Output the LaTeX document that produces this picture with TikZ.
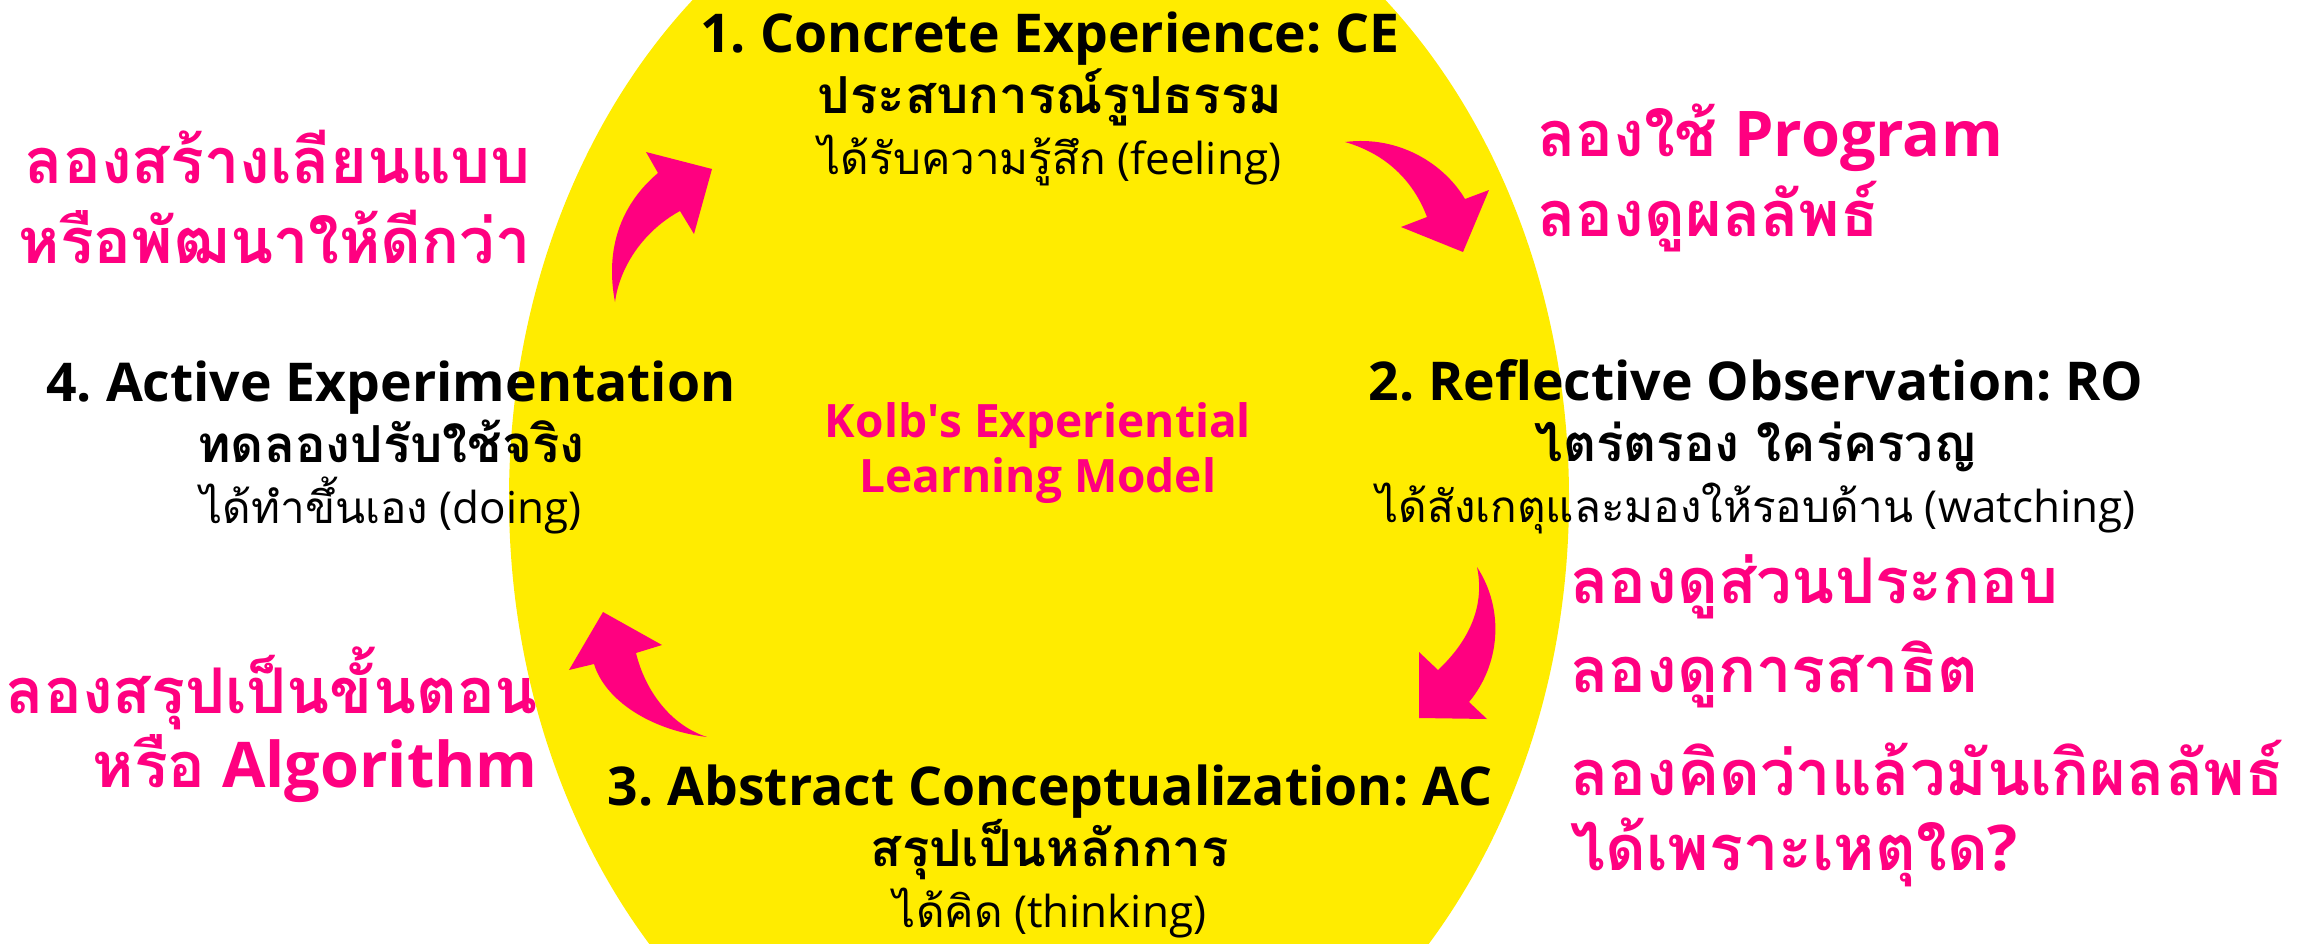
\documentclass[tikz,border=0pt]{standalone}
\usepackage{fontspec}
\setmainfont{Open Sans}
\newfontfamily\thai[Script=Thai]{Loma}
\usepackage{tikz}
\definecolor{kolbyellow}{HTML}{FFEC00}
\definecolor{kolbpink}{HTML}{FF0080}
\frenchspacing

\newcommand{\headline}{\fontsize{53.5}{61}\selectfont\bfseries}
\newcommand{\thaiheadline}{\fontsize{51}{61}\selectfont\bfseries\thai}
\newcommand{\subline}{\fontsize{44}{61}\selectfont\mdseries}

\begin{document}
\begin{tikzpicture}
  [x=1pt,y=-1pt,every node/.style={inner sep=0pt},
   stagetext/.style={align=center,font=\fontsize{51}{61}\selectfont},
   hinttext/.style={text=kolbpink,font=\fontsize{63}{80}\selectfont\bfseries},
   bigarrow/.style={fill=kolbpink}]
  \useasboundingbox (0,0) rectangle (2311,943);
  \clip (0,0) rectangle (2311,943);
  \fill[kolbyellow] (1039,498) ellipse [x radius=530,y radius=658];

  % the four stages
  \node[stagetext] (ce) at (1050,99)
    {{\headline 1. Concrete Experience: CE}\\
     {\thaiheadline ประสบการณ์รูปธรรม}\\
     {\subline{\thai ได้รับความรู้สึก} (feeling)}};
  \node[stagetext] (ro) at (1756,447)
    {{\headline 2. Reflective Observation: RO}\\
     {\thaiheadline ไตร่ตรอง ใคร่ครวญ}\\
     {\subline{\thai ได้สังเกตุและมองให้รอบด้าน} (watching)}};
  \node[stagetext] (ac) at (1050,851)
    {{\headline 3. Abstract Conceptualization: AC}\\
     {\thaiheadline สรุปเป็นหลักการ}\\
     {\subline{\thai ได้คิด} (thinking)}};
  \node[stagetext] (ae) at (391,447)
    {{\headline 4. Active Experimentation}\\
     {\thaiheadline ทดลองปรับใช้จริง}\\
     {\subline{\thai ได้ทำขึ้นเอง} (doing)}};

  \node[align=center,text=kolbpink,font=\fontsize{46}{55}\selectfont\bfseries] (title) at (1038,453)
    {Kolb\textquotesingle s Experiential\\ Learning Model};

  % what to try at each step
  \node[hinttext,align=right,anchor=east] (h1) at (531,197)
    {{\thai ลองสร้างเลียนแบบ}\\ {\thai หรือพัฒนาให้ดีกว่า}};
  \node[hinttext,align=left,anchor=west] (h2) at (1537,178)
    {{\thai ลองใช้} Program\\ {\thai ลองดูผลลัพธ์}};
  \node[hinttext,anchor=west] (h3) at (1570,587) {\thai ลองดูส่วนประกอบ};
  \node[hinttext,anchor=west] (h4) at (1570,674) {\thai ลองดูการสาธิต};
  \node[hinttext,align=left,anchor=west,font=\fontsize{63}{75}\selectfont\bfseries] (h5) at (1570,814)
    {{\thai ลองคิดว่าแล้วมันเกิผลลัพธ์}\\ {\thai ได้เพราะเหตุใด}?};
  \node[hinttext,align=right,anchor=east,font=\fontsize{63}{74}\selectfont\bfseries] (h6) at (538,725)
    {{\thai ลองสรุปเป็นขั้นตอน}\\ {\thai หรือ} Algorithm};

  % curved arrows round the cycle
  \fill[bigarrow] (615,302) .. controls (605,250) and (620,205) .. (658,173)
    -- (646,152) -- (712,169) -- (694,234) -- (680,211)
    .. controls (645,230) and (620,265) .. (615,302) -- cycle;
  \fill[bigarrow] (1345,142) .. controls (1400,135) and (1445,165) .. (1465,199)
    -- (1489,190) -- (1463,252) -- (1401,227) -- (1427,217)
    .. controls (1415,185) and (1390,155) .. (1345,142) -- cycle;
  \fill[bigarrow] (1477,567) .. controls (1505,610) and (1500,665) .. (1469,702)
    -- (1487,719) -- (1419,718) -- (1419,652) -- (1438,670)
    .. controls (1470,640) and (1485,605) .. (1477,567) -- cycle;
  \fill[bigarrow] (707,737) .. controls (650,730) and (605,700) .. (594,664)
    -- (569,670) -- (603,612) -- (662,645) -- (636,653)
    .. controls (645,690) and (670,725) .. (707,737) -- cycle;
\end{tikzpicture}
\end{document}
